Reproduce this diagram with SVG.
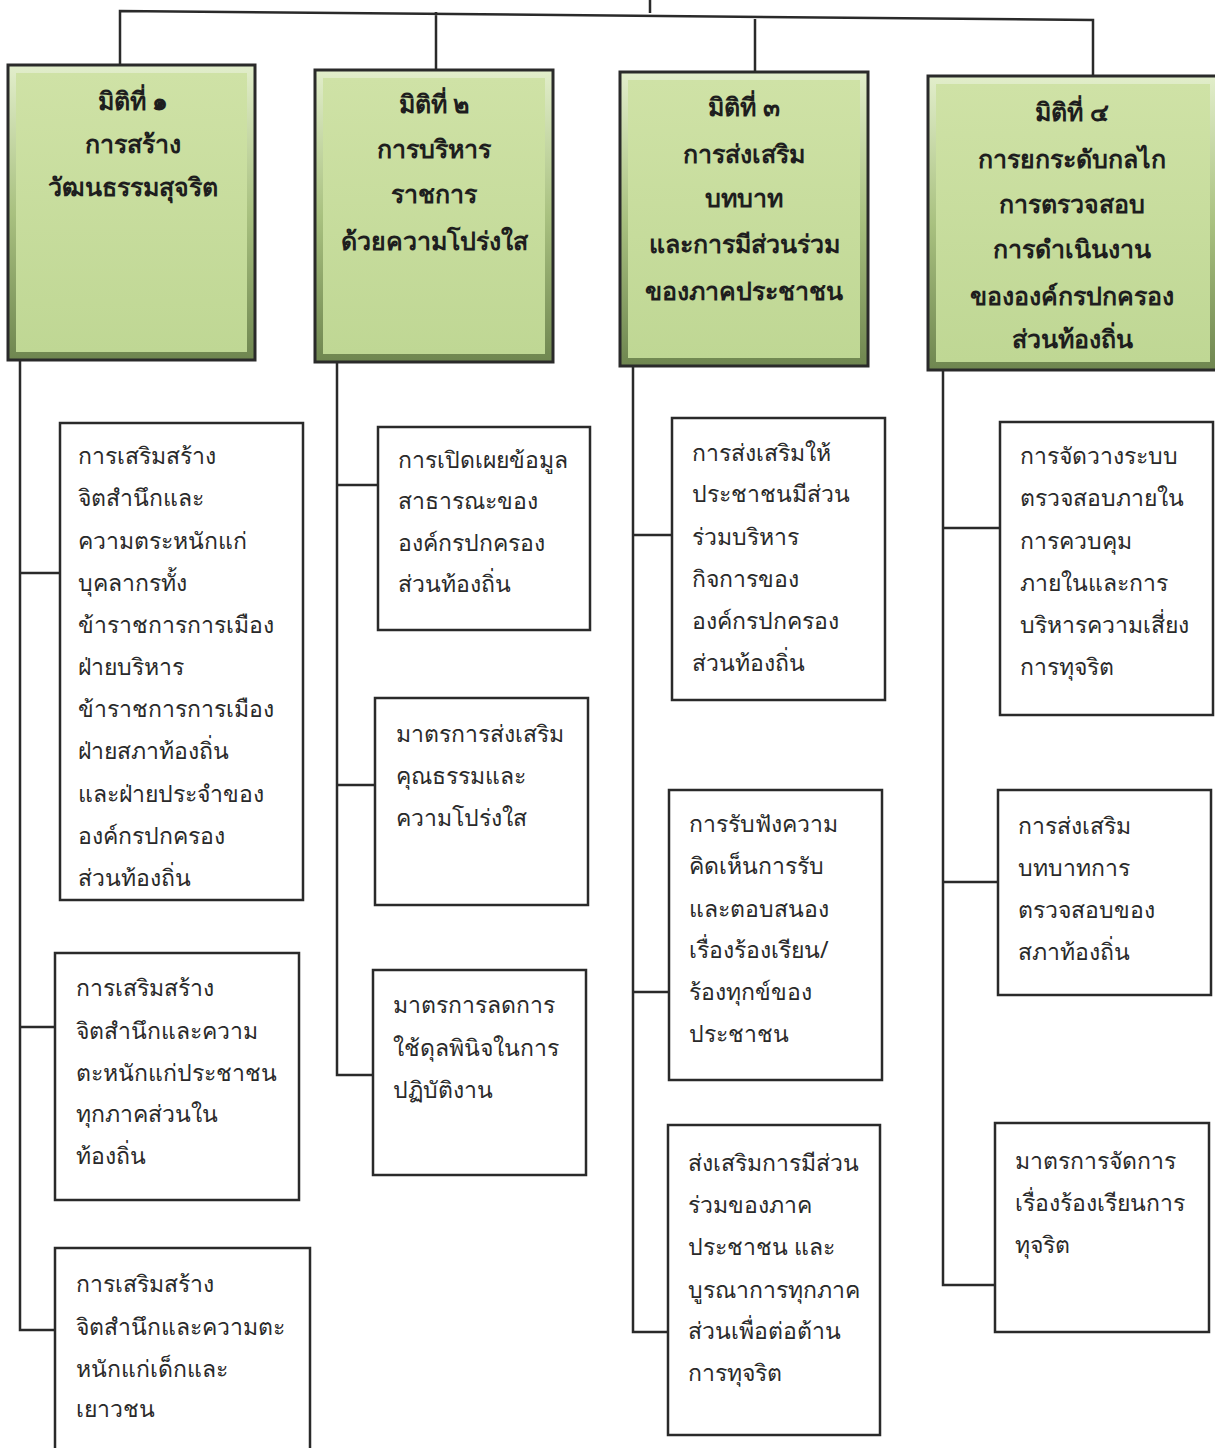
<svg xmlns="http://www.w3.org/2000/svg" width="1215" height="1448" viewBox="0 0 1215 1448">
<defs>
<linearGradient id="gfill" x1="0" y1="0" x2="0" y2="1">
<stop offset="0" stop-color="#cfe2a6"/>
<stop offset="1" stop-color="#bfd794"/>
</linearGradient>
<linearGradient id="gbev" x1="0" y1="0" x2="0" y2="1">
<stop offset="0" stop-color="#e2eecb"/>
<stop offset="0.5" stop-color="#a9c180"/>
<stop offset="1" stop-color="#6f8650"/>
</linearGradient>
</defs>
<style>
.conn{fill:none;stroke:#2a2a2a;stroke-width:2.5}
.box{fill:#ffffff;stroke:#2a2a2a;stroke-width:2.5}
.gout{fill:url(#gbev);stroke:#2a2a2a;stroke-width:3}
.gin{fill:url(#gfill)}
.h{font-family:"Noto Sans","DejaVu Sans",sans-serif;font-size:25px;font-weight:bold;fill:#1e1e1e;text-anchor:middle}
.t{font-family:"Noto Sans","DejaVu Sans",sans-serif;font-size:23px;fill:#2a2a2a}
</style>
<rect width="1215" height="1448" fill="#ffffff"/>
<g id="connectors">
<path class="conn" d="M650 0 V13 M120 65 V11 L1093 20 V76 M436 70 V12 M755 72 V19"/>
<path class="conn" d="M20 360 V1330 H55 M20 573 H60 M20 1027 H55"/>
<path class="conn" d="M337 362 V1075 H373 M337 485 H378 M337 785 H375"/>
<path class="conn" d="M633 366 V1332 H668 M633 535 H672 M633 992 H669"/>
<path class="conn" d="M943 370 V1285 H995 M943 528 H1000 M943 882 H998"/>
</g>
<g id="dim1">
<rect class="gout" x="8" y="65" width="247" height="295"/>
<rect class="gin" x="16" y="73" width="231" height="279"/>
<text class="h" x="133" y="110">มิติที่ ๑</text>
<text class="h" x="133" y="153">การสร้าง</text>
<text class="h" x="133" y="196">วัฒนธรรมสุจริต</text>
</g>
<g id="dim2">
<rect class="gout" x="315" y="70" width="238" height="292"/>
<rect class="gin" x="323" y="78" width="222" height="276"/>
<text class="h" x="434" y="113">มิติที่ ๒</text>
<text class="h" x="434" y="158">การบริหาร</text>
<text class="h" x="434" y="203">ราชการ</text>
<text class="h" x="434" y="250">ด้วยความโปร่งใส</text>
</g>
<g id="dim3">
<rect class="gout" x="620" y="72" width="248" height="294"/>
<rect class="gin" x="628" y="80" width="232" height="278"/>
<text class="h" x="744" y="116">มิติที่ ๓</text>
<text class="h" x="744" y="163">การส่งเสริม</text>
<text class="h" x="744" y="207">บทบาท</text>
<text class="h" x="744" y="253">และการมีส่วนร่วม</text>
<text class="h" x="744" y="300">ของภาคประชาชน</text>
</g>
<g id="dim4">
<rect class="gout" x="928" y="76" width="290" height="294"/>
<rect class="gin" x="936" y="84" width="274" height="278"/>
<text class="h" x="1072" y="121">มิติที่ ๔</text>
<text class="h" x="1072" y="168">การยกระดับกลไก</text>
<text class="h" x="1072" y="213">การตรวจสอบ</text>
<text class="h" x="1072" y="258">การดำเนินงาน</text>
<text class="h" x="1072" y="305">ขององค์กรปกครอง</text>
<text class="h" x="1072" y="348">ส่วนท้องถิ่น</text>
</g>
<g id="n1a">
<rect class="box" x="60" y="423" width="243" height="477"/>
<text class="t" x="78" y="464">การเสริมสร้าง</text>
<text class="t" x="78" y="506">จิตสำนึกและ</text>
<text class="t" x="78" y="549">ความตระหนักแก่</text>
<text class="t" x="78" y="591">บุคลากรทั้ง</text>
<text class="t" x="78" y="633">ข้าราชการการเมือง</text>
<text class="t" x="78" y="675">ฝ่ายบริหาร</text>
<text class="t" x="78" y="717">ข้าราชการการเมือง</text>
<text class="t" x="78" y="759">ฝ่ายสภาท้องถิ่น</text>
<text class="t" x="78" y="802">และฝ่ายประจำของ</text>
<text class="t" x="78" y="844">องค์กรปกครอง</text>
<text class="t" x="78" y="886">ส่วนท้องถิ่น</text>
</g>
<g id="n1b">
<rect class="box" x="55" y="953" width="244" height="247"/>
<text class="t" x="76" y="996">การเสริมสร้าง</text>
<text class="t" x="76" y="1039">จิตสำนึกและความ</text>
<text class="t" x="76" y="1081">ตะหนักแก่ประชาชน</text>
<text class="t" x="76" y="1122">ทุกภาคส่วนใน</text>
<text class="t" x="76" y="1164">ท้องถิ่น</text>
</g>
<g id="n1c">
<rect class="box" x="55" y="1248" width="255" height="210"/>
<text class="t" x="76" y="1292">การเสริมสร้าง</text>
<text class="t" x="76" y="1335">จิตสำนึกและความตะ</text>
<text class="t" x="76" y="1377">หนักแก่เด็กและ</text>
<text class="t" x="76" y="1417">เยาวชน</text>
</g>
<g id="n2a">
<rect class="box" x="378" y="427" width="212" height="203"/>
<text class="t" x="398" y="468">การเปิดเผยข้อมูล</text>
<text class="t" x="398" y="509">สาธารณะของ</text>
<text class="t" x="398" y="551">องค์กรปกครอง</text>
<text class="t" x="398" y="592">ส่วนท้องถิ่น</text>
</g>
<g id="n2b">
<rect class="box" x="375" y="698" width="213" height="207"/>
<text class="t" x="396" y="742">มาตรการส่งเสริม</text>
<text class="t" x="396" y="784">คุณธรรมและ</text>
<text class="t" x="396" y="826">ความโปร่งใส</text>
</g>
<g id="n2c">
<rect class="box" x="373" y="970" width="213" height="205"/>
<text class="t" x="393" y="1013">มาตรการลดการ</text>
<text class="t" x="393" y="1056">ใช้ดุลพินิจในการ</text>
<text class="t" x="393" y="1098">ปฏิบัติงาน</text>
</g>
<g id="n3a">
<rect class="box" x="672" y="418" width="213" height="282"/>
<text class="t" x="692" y="461">การส่งเสริมให้</text>
<text class="t" x="692" y="502">ประชาชนมีส่วน</text>
<text class="t" x="692" y="545">ร่วมบริหาร</text>
<text class="t" x="692" y="587">กิจการของ</text>
<text class="t" x="692" y="629">องค์กรปกครอง</text>
<text class="t" x="692" y="671">ส่วนท้องถิ่น</text>
</g>
<g id="n3b">
<rect class="box" x="669" y="790" width="213" height="290"/>
<text class="t" x="689" y="832">การรับฟังความ</text>
<text class="t" x="689" y="874">คิดเห็นการรับ</text>
<text class="t" x="689" y="917">และตอบสนอง</text>
<text class="t" x="689" y="958">เรื่องร้องเรียน/</text>
<text class="t" x="689" y="1000">ร้องทุกข์ของ</text>
<text class="t" x="689" y="1042">ประชาชน</text>
</g>
<g id="n3c">
<rect class="box" x="668" y="1125" width="212" height="310"/>
<text class="t" x="688" y="1171">ส่งเสริมการมีส่วน</text>
<text class="t" x="688" y="1213">ร่วมของภาค</text>
<text class="t" x="688" y="1255">ประชาชน และ</text>
<text class="t" x="688" y="1298">บูรณาการทุกภาค</text>
<text class="t" x="688" y="1339">ส่วนเพื่อต่อต้าน</text>
<text class="t" x="688" y="1381">การทุจริต</text>
</g>
<g id="n4a">
<rect class="box" x="1000" y="422" width="213" height="293"/>
<text class="t" x="1020" y="464">การจัดวางระบบ</text>
<text class="t" x="1020" y="506">ตรวจสอบภายใน</text>
<text class="t" x="1020" y="549">การควบคุม</text>
<text class="t" x="1020" y="591">ภายในและการ</text>
<text class="t" x="1020" y="633">บริหารความเสี่ยง</text>
<text class="t" x="1020" y="675">การทุจริต</text>
</g>
<g id="n4b">
<rect class="box" x="998" y="790" width="213" height="205"/>
<text class="t" x="1018" y="834">การส่งเสริม</text>
<text class="t" x="1018" y="876">บทบาทการ</text>
<text class="t" x="1018" y="918">ตรวจสอบของ</text>
<text class="t" x="1018" y="960">สภาท้องถิ่น</text>
</g>
<g id="n4c">
<rect class="box" x="995" y="1123" width="214" height="209"/>
<text class="t" x="1015" y="1169">มาตรการจัดการ</text>
<text class="t" x="1015" y="1211">เรื่องร้องเรียนการ</text>
<text class="t" x="1015" y="1253">ทุจริต</text>
</g>
</svg>
